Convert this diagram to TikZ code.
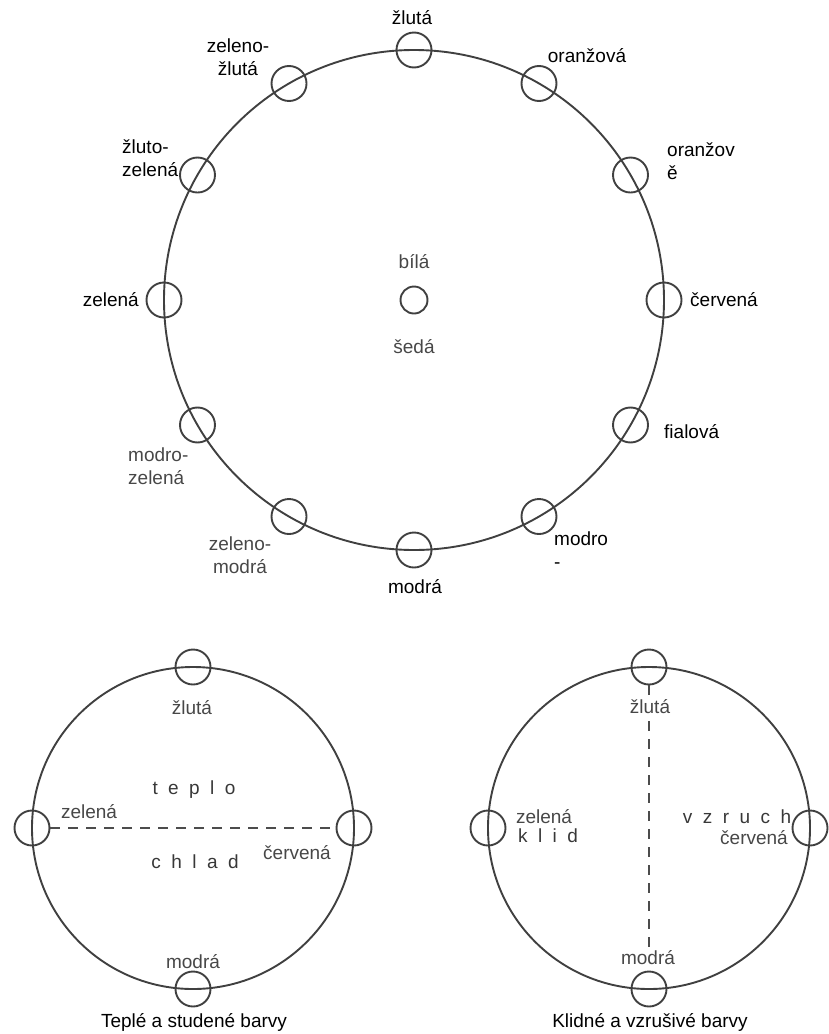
\documentclass[tikz,border=0pt]{standalone}
\usepackage{fontspec}
\setmainfont{Liberation Sans}
\newfontfamily\spacedfont[LetterSpace=55]{Liberation Sans}
\usepackage{tikz}
\usetikzlibrary{positioning}
\tikzset{
  ring/.style={circle,draw=black!75,line width=1.9pt,outer sep=0pt,inner sep=0pt},
  hole/.style={circle,draw=black!75,line width=1.9pt,minimum size=35pt,inner sep=0pt},
  lbl/.style={font=\fontsize{19}{23}\selectfont,inner sep=1pt},
  glbl/.style={lbl,text=black!72},
  sp/.style={lbl,text=black!78,font=\fontsize{19}{23}\selectfont\spacedfont},
  split/.style={draw=black!70,line width=2pt,dash pattern=on 10pt off 8pt},
}

\begin{document}
\begin{tikzpicture}[x=1pt,y=-1pt]
  \useasboundingbox (0,0) rectangle (829,1034);

  % colour wheel
  \node[ring,minimum size=500pt] (wheel) at (414,300) {};
  \node[hole] (zl)  at (wheel.90)  {};
  \node[hole] (or)  at (wheel.60)  {};
  \node[hole] (or2) at (wheel.30)  {};
  \node[hole] (cv)  at (wheel.0)   {};
  \node[hole] (fi)  at (wheel.-30) {};
  \node[hole] (mc)  at (wheel.-60) {};
  \node[hole] (mo)  at (wheel.-90) {};
  \node[hole] (zm)  at (wheel.240) {};
  \node[hole] (mz)  at (wheel.210) {};
  \node[hole] (ze)  at (wheel.180) {};
  \node[hole] (zz)  at (wheel.150) {};
  \node[hole] (zzl) at (wheel.120) {};
  \node[hole,minimum size=27pt] (gray) at (wheel.center) {};

  \node[lbl] at (412,18) {žlutá};
  \node[lbl,align=center] at (238,57) {zeleno-\\žlutá};
  \node[lbl] at (587,56) {oranžová};
  \node[lbl,align=left,anchor=west] at (666,161) {oranžov\\ě};
  \node[lbl,anchor=west] at (689,300) {červená};
  \node[lbl,anchor=west] at (663,432) {fialová};
  \node[lbl,align=left,anchor=west] at (553,550) {modro\\-};
  \node[lbl] at (415,587) {modrá};
  \node[glbl,align=center] at (240,555) {zeleno-\\modrá};
  \node[glbl,align=left,anchor=west] at (127,466) {modro-\\zelená};
  \node[lbl,anchor=east] at (140,300) {zelená};
  \node[lbl,align=left,anchor=west] at (121,158) {žluto-\\zelená};
  \node[glbl] at (414,262) {bílá};
  \node[glbl] at (414,347) {šedá};

  % warm and cold
  \node[ring,minimum size=322pt] (warm) at (193,828) {};
  \node[hole] (wzl) at (warm.90)  {};
  \node[hole] (wmo) at (warm.-90) {};
  \node[hole] (wze) at (warm.180) {};
  \node[hole] (wcv) at (warm.0)   {};
  \draw[split] (wze) -- (wcv);
  \node[glbl] at (192,708) {žlutá};
  \node[sp] at (194,790) {teplo};
  \node[glbl] at (89,812) {zelená};
  \node[glbl] at (297,853) {červená};
  \node[sp] at (195,862) {chlad};
  \node[glbl] at (193,962) {modrá};
  \node[lbl] at (194,1022) {Teplé a studené barvy};

  % calm and excited
  \node[ring,minimum size=322pt] (calm) at (649,828) {};
  \node[hole] (czl) at (calm.90)  {};
  \node[hole] (cmo) at (calm.-90) {};
  \node[hole] (cze) at (calm.180) {};
  \node[hole] (ccv) at (calm.0)   {};
  \draw[split] (czl) -- (cmo);
  \node[glbl,fill=white] at (650,707) {žlutá};
  \node[glbl] at (544,817) {zelená};
  \node[sp] at (548,836) {klid};
  \node[sp] at (737,817) {vzruch};
  \node[glbl] at (754,838) {červená};
  \node[glbl,fill=white] at (648,958) {modrá};
  \node[lbl] at (650,1022) {Klidné a vzrušivé barvy};
\end{tikzpicture}
\end{document}
